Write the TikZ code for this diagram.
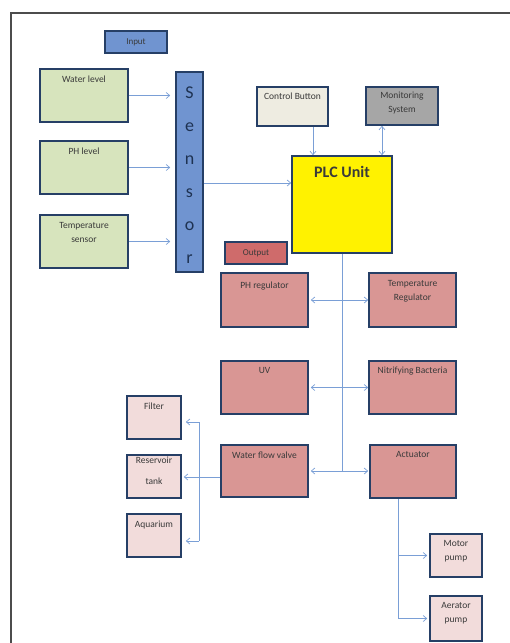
\documentclass[tikz,border=0pt]{standalone}
\usepackage{fontspec}
\setmainfont{Carlito}
\usetikzlibrary{arrows.meta}
\tikzset{>={Straight Barb[length=3.5pt,width=6pt]}}
\definecolor{edge}{HTML}{263F66}
\definecolor{wirec}{HTML}{7A9FD6}
\definecolor{txt}{HTML}{3A3A3A}
\definecolor{inblue}{HTML}{7094D0}
\definecolor{sgreen}{HTML}{D7E4BD}
\definecolor{outred}{HTML}{CF6B6B}
\definecolor{pred}{HTML}{D99694}
\definecolor{lpink}{HTML}{F2DCDB}
\definecolor{beige}{HTML}{EEECE1}
\definecolor{mgray}{HTML}{A6A6A6}
\tikzset{
  blk/.style={draw=edge, line width=1.6pt, inner sep=0pt},
  sz/.style 2 args={minimum width=#1pt, minimum height=#2pt},
  lbl/.style={font=\fontsize{9.5}{14}\selectfont, text=txt, align=center, inner sep=0pt, anchor=north},
  wire/.style={draw=wirec, line width=0.7pt}
}

\begin{document}
\begin{tikzpicture}[x=1pt,y=-1pt]
  \useasboundingbox (0,0) rectangle (510,643);
  % page frame
  \draw[black!70, line width=1.2pt] (11,643) -- (11,13) -- (510,13);
  % input side
  \node[blk, sz={62}{22}, fill=inblue, font=\fontsize{9}{10}\selectfont, text=txt] (IN) at (136,42) {Input};
  \node[blk, sz={88}{53}, fill=sgreen] (WL) at (84,95.5) {};
  \node[blk, sz={88}{53}, fill=sgreen] (PHL) at (84,167.5) {};
  \node[blk, sz={88}{53}, fill=sgreen] (TS) at (84,241.5) {};
  \node[lbl] (WLt) at ([yshift=-8pt]WL.north) {Water level};
  \node[lbl] (PHLt) at ([yshift=-8pt]PHL.north) {PH level};
  \node[lbl] (TSt) at ([yshift=-8pt]TS.north) {Temperature\\sensor};
  \node[blk, sz={27}{200}, fill=inblue] (S) at (189.5,172) {};
  \node[font=\fontsize{18}{33}\selectfont, text=edge!80!black, align=center, inner sep=0pt] (St) at ([yshift=-3pt]S.center) {S\\e\\n\\s\\o\\r};
  % controller
  \node[blk, sz={71}{39}, fill=beige] (CB) at (292.5,106.5) {};
  \node[lbl] (CBt) at ([yshift=-7pt]CB.north) {Control Button};
  \node[blk, sz={72}{38}, fill=mgray] (MS) at (402,106) {};
  \node[lbl] (MSt) at ([yshift=-6pt]MS.north) {Monitoring\\System};
  \node[blk, sz={100}{97}, fill=yellow] (PLC) at (342,204.5) {};
  \node[font=\bfseries\fontsize{16}{18}\selectfont, text=txt, inner sep=0pt] (PLCt) at ([yshift=-17pt]PLC.north) {PLC Unit};
  % output side
  \node[blk, sz={62}{22}, fill=outred, font=\fontsize{9}{10}\selectfont, text=txt] (OUT) at (256,253) {Output};
  \node[blk, sz={87}{54}, fill=pred] (PHR) at (264.5,300) {};
  \node[blk, sz={87}{54}, fill=pred] (TR) at (412.5,300) {};
  \node[blk, sz={87}{53}, fill=pred] (UV) at (264.5,387.5) {};
  \node[blk, sz={87}{53}, fill=pred] (NB) at (412.5,387.5) {};
  \node[blk, sz={87}{52}, fill=pred] (WV) at (264.5,471) {};
  \node[blk, sz={86}{53}, fill=pred] (A) at (413,471.5) {};
  \node[lbl] (PHRt) at ([yshift=-9pt]PHR.north) {PH regulator};
  \node[lbl] (TRt) at ([yshift=-8pt]TR.north) {Temperature\\Regulator};
  \node[lbl] (UVt) at ([yshift=-7pt]UV.north) {UV};
  \node[lbl] (NBt) at ([yshift=-7pt]NB.north) {Nitrifying Bacteria};
  \node[lbl] (WVt) at ([yshift=-7pt]WV.north) {Water flow valve};
  \node[lbl] (At) at ([yshift=-7pt]A.north) {Actuator};
  % small end boxes
  \node[blk, sz={54}{43}, fill=lpink] (F) at (154,417.5) {};
  \node[blk, sz={54}{43}, fill=lpink] (RT) at (154,476.5) {};
  \node[blk, sz={54}{43}, fill=lpink] (AQ) at (154,535.5) {};
  \node[blk, sz={52}{43}, fill=lpink] (MP) at (456,555.5) {};
  \node[blk, sz={52}{45}, fill=lpink] (AP) at (456,618.5) {};
  \node[lbl] (Ft) at ([yshift=-7pt]F.north) {Filter};
  \node[lbl] (RTt) at ([yshift=-3pt]RT.north) {Reservoir\\[7pt]tank};
  \node[lbl] (AQt) at ([yshift=-8pt]AQ.north) {Aquarium};
  \node[lbl] (MPt) at ([yshift=-7pt]MP.north) {Motor\\pump};
  \node[lbl] (APt) at ([yshift=-7pt]AP.north) {Aerator\\pump};
  % sensors to Sensor to PLC
  \foreach \n in {WL,PHL,TS}
    \draw[wire,->,shorten >=5pt] (\n.east) -- (\n.east -| S.west);
  \coordinate (in) at ([yshift=21.5pt]PLC.west);
  \draw[wire,->] (S.east |- in) -- (in);
  \coordinate (cb) at ([xshift=20.5pt]CB.south);
  \draw[wire,->] (cb) -- (cb |- PLC.north);
  \coordinate (ms) at ([xshift=-20pt]MS.south);
  \draw[wire,<->] (ms) -- (ms |- PLC.north);
  % PLC bus
  \coordinate (bus) at (PLC.south |- WV.east);
  \draw[wire] (PLC.south) -- (bus);
  \draw[wire,<->,shorten <=2pt] (PHR.east) -- (TR.west);
  \draw[wire,<->,shorten <=2pt] (UV.east) -- (NB.west);
  \draw[wire,->,shorten >=2pt] (bus) -- (WV.east);
  \draw[wire,->,shorten >=1pt] (bus) -- (A.west |- bus);
  % valve outlets
  \coordinate (vb) at (199,477);
  \coordinate (f) at ([yshift=-4.5pt]F.east);
  \coordinate (q) at ([yshift=-5.5pt]AQ.east);
  \draw[wire] (WV.west |- vb) -- (vb);
  \draw[wire] (vb |- f) -- (vb |- q);
  \foreach \t in {f,q}
    \draw[wire,->,shorten >=4pt] (vb |- \t) -- (\t);
  \draw[wire,->,shorten >=2pt] (vb) -- (RT.east |- vb);
  % actuator outlets
  \coordinate (ab) at ([xshift=-15pt]A.south);
  \draw[wire] (ab) -- (ab |- AP.west);
  \foreach \p in {MP,AP}
    \draw[wire,->,shorten >=2pt] (ab |- \p.west) -- (\p.west);
\end{tikzpicture}
\end{document}
